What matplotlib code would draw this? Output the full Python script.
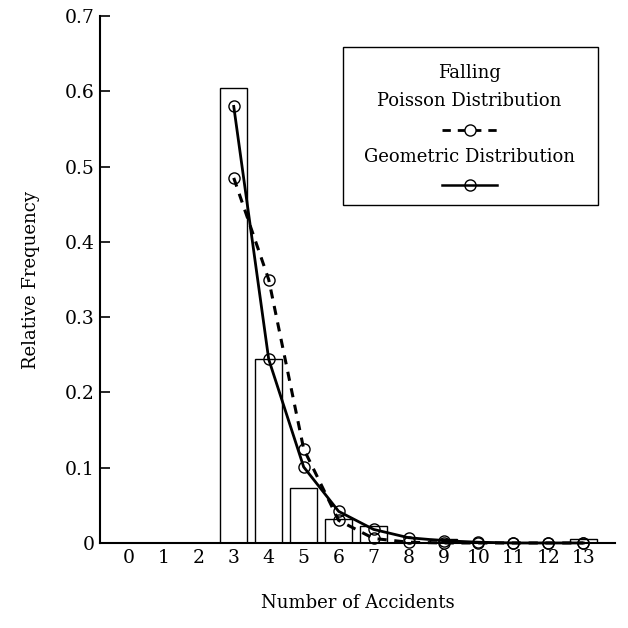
import matplotlib
matplotlib.use("Agg")
import matplotlib.pyplot as plt
from matplotlib.patches import Rectangle

plt.rcParams['font.family'] = ['DejaVu Serif']

# observed relative frequencies (histogram)
bar_x = [3, 4, 5, 6, 7, 8, 9, 10, 11, 12, 13]
observed = [0.605, 0.245, 0.073, 0.032, 0.023, 0.0, 0.005, 0.0, 0.0, 0.0, 0.005]

# fitted distributions
fit_x = [3, 4, 5, 6, 7, 8, 9, 10, 11, 12, 13]
poisson = [0.485, 0.35, 0.125, 0.03, 0.006, 0.001, 0.0, 0.0, 0.0, 0.0, 0.0]
geometric = [0.58, 0.244, 0.101, 0.042, 0.018, 0.007, 0.003, 0.001, 0.0, 0.0, 0.0]

xticks = list(range(0, 14))
yticks = [0, 0.1, 0.2, 0.3, 0.4, 0.5, 0.6, 0.7]
ytick_labels = ['0', '0.1', '0.2', '0.3', '0.4', '0.5', '0.6', '0.7']

fig = plt.figure(figsize=(6.28, 6.28), dpi=100)
ax = fig.add_axes([0.159, 0.1354, 0.82, 0.839])

ax.bar(bar_x, observed, width=0.77, facecolor='white', edgecolor='black', lw=1.0, zorder=1)

ax.plot(fit_x, poisson, color='black', lw=2.2, ls=(0, (3, 2.5)), marker='o', ms=8,
        mfc='none', mec='black', mew=1.0, clip_on=False, zorder=3)
ax.plot(fit_x, geometric, color='black', lw=2.0, ls='-', marker='o', ms=8,
        mfc='none', mec='black', mew=1.0, clip_on=False, zorder=3)

ax.set_xlim(-0.83, 13.9)
ax.set_ylim(0, 0.7)
ax.set_xticks(xticks)
ax.set_xticklabels([str(v) for v in xticks])
ax.set_yticks(yticks)
ax.set_yticklabels(ytick_labels)
ax.tick_params(axis='x', length=0, pad=4, labelsize=13.5)
ax.tick_params(axis='y', direction='in', length=7, width=1.2, labelsize=13.5)
for s in ['top', 'right']:
    ax.spines[s].set_visible(False)
for s in ['left', 'bottom']:
    ax.spines[s].set_linewidth(1.5)

ax.set_xlabel('Number of Accidents', fontsize=13, labelpad=20)
ax.set_ylabel('Relative Frequency', fontsize=13, labelpad=18)

# legend drawn by hand
ax.add_patch(Rectangle((0.472, 0.641), 0.495, 0.300, transform=ax.transAxes,
                       facecolor='white', edgecolor='black', lw=1.0, zorder=5))
cx = 0.718
ax.text(cx, 0.892, 'Falling', transform=ax.transAxes, ha='center', va='center', fontsize=13, zorder=6)
ax.text(cx, 0.839, 'Poisson Distribution', transform=ax.transAxes, ha='center', va='center', fontsize=13, zorder=6)
ax.plot([cx - 0.053, cx + 0.053], [0.784, 0.784], transform=ax.transAxes, color='black', lw=2.0,
        ls=(0, (3, 2.5)), zorder=6)
ax.plot([cx], [0.784], transform=ax.transAxes, marker='o', ms=8, mfc='white', mec='black', mew=1.0, zorder=7)
ax.text(cx, 0.732, 'Geometric Distribution', transform=ax.transAxes, ha='center', va='center', fontsize=13, zorder=6)
ax.plot([cx - 0.053, cx + 0.053], [0.679, 0.679], transform=ax.transAxes, color='black', lw=1.8, zorder=6)
ax.plot([cx], [0.679], transform=ax.transAxes, marker='o', ms=8, mfc='none', mec='black', mew=1.0, zorder=7)

fig.savefig('out.png', dpi=100)
